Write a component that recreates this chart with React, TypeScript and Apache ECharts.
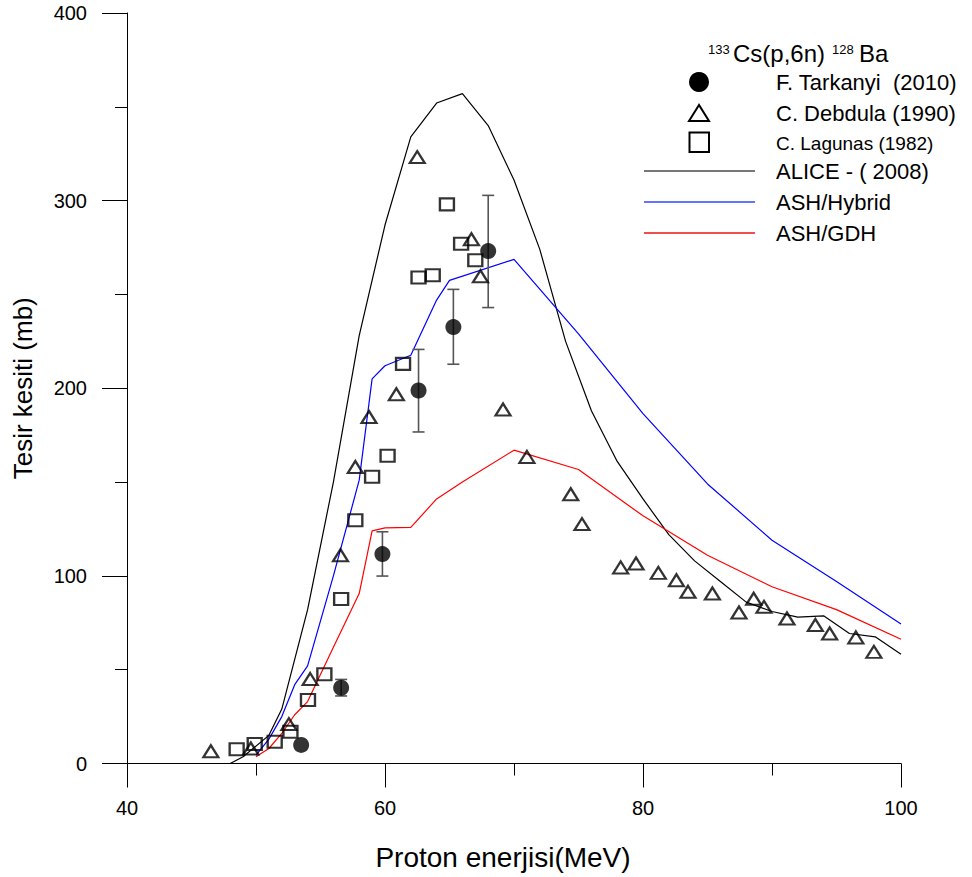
import React, { useEffect, useRef } from "react";
import * as echarts from "echarts";

// ---- data (energy MeV, cross-section mb) ----
const tarkanyi = [
  [53.5, 9.9], [56.6, 40.4], [59.8, 111.6], [62.6, 198.8], [65.3, 232.6], [68.0, 273.1],
];
const tarkanyiErr = [
  [56.6, 36, 44.8], [59.8, 99.9, 123.5], [62.6, 176.7, 220.7], [65.3, 212.8, 252.7], [68.0, 243, 302.8],
];
const debdula = [
  [46.5, 6.5], [49.6, 8], [52.55, 21], [54.2, 45], [56.55, 111], [57.7, 158], [58.76, 184.7],
  [60.88, 196.8], [62.5, 323.2], [66.7, 279.4], [67.4, 259.7], [69.15, 188.7], [71.0, 163.4],
  [74.4, 143.5], [75.27, 127.6], [78.27, 104.5], [79.46, 106.6], [81.19, 101.6], [82.59, 97.7],
  [83.49, 91.5], [85.38, 90.6], [87.44, 80.5], [88.58, 87.8], [89.38, 83.5], [91.16, 77.3],
  [93.36, 73.8], [94.47, 69.3], [96.5, 67.2], [97.9, 59.5],
];
const lagunas = [
  [48.5, 7.6], [49.9, 10.4], [51.45, 11.6], [52.67, 16.9], [54.03, 33.8], [55.3, 47.6],
  [56.6, 87.7], [57.7, 129.7], [59.0, 152.8], [60.2, 164], [61.4, 213], [62.6, 259],
  [63.7, 260.2], [64.8, 298], [65.9, 277], [67.0, 268.2],
];
const alice = [
  [48, 0], [49, 3.6], [51, 15], [52, 29], [54, 82], [56, 150], [58, 228], [60, 287], [62, 334],
  [64, 352], [66, 357], [68, 340], [70, 311], [72, 274], [74, 225], [76, 188], [78, 161],
  [80, 141], [82, 122], [84, 108], [86, 97], [88, 86], [90, 81], [92, 78], [94, 78.7],
  [96, 69.3], [98, 67.5], [100, 58.2],
];
const ashHybrid = [
  [50, 4.5], [51, 13], [52, 25], [53, 42], [54, 52], [56, 100], [58, 151], [59, 205], [60, 212],
  [62, 217.6], [64, 247], [65, 257.5], [70, 268.7], [75, 229], [80, 186.5], [85, 149],
  [90, 119], [95, 97], [100, 74.3],
];
const ashGdh = [
  [50, 3.6], [51, 8], [52, 16], [53, 26], [54, 33], [56, 62], [58, 90.6], [59, 124], [60, 125.6],
  [62, 125.8], [64, 141], [66, 150], [70, 167], [75, 156.7], [80, 132], [85, 111], [90, 94.2],
  [95, 82], [100, 66.2],
];
const legendNames = [
  "F. Tarkanyi  (2010)", "C. Debdula (1990)", "C. Lagunas (1982)",
  "ALICE - ( 2008)", "ASH/Hybrid", "ASH/GDH",
];

const FONT = "'Liberation Sans', Arial, Helvetica, sans-serif";

export default function App() {
  const ref = useRef<HTMLDivElement>(null);
  useEffect(() => {
    const chart = echarts.init(ref.current as HTMLDivElement, null, {
      renderer: "svg",
      width: 972,
      height: 877,
    });
    const txt = (text: string, x: number, y: number, size: number) => ({
      type: "text",
      x,
      y,
      silent: true,
      style: { text, fontSize: size, fontFamily: FONT, fill: "#000", align: "left", verticalAlign: "middle" },
    });
    const option: any = {
      animation: false,
      backgroundColor: "#fff",
      grid: { left: 127, right: 71, top: 13, bottom: 113.5, containLabel: false },
      xAxis: {
        type: "value",
        min: 40,
        max: 100,
        interval: 20,
        name: "Proton enerjisi(MeV)",
        nameLocation: "middle",
        nameGap: 80,
        nameTextStyle: { fontSize: 28, fontFamily: FONT, color: "#000", padding: [0, 22, 0, 0] },
        axisLine: { onZero: false, lineStyle: { color: "#000", width: 1 } },
        axisTick: { inside: false, length: 24, lineStyle: { color: "#000" } },
        minorTick: { show: true, splitNumber: 2, length: 12, lineStyle: { color: "#000" } },
        axisLabel: { fontSize: 20, fontFamily: FONT, color: "#000", margin: 34 },
        splitLine: { show: false },
      },
      yAxis: {
        type: "value",
        min: 0,
        max: 400,
        interval: 100,
        name: "Tesir kesiti (mb)",
        nameLocation: "middle",
        nameGap: 91,
        nameRotate: 90,
        nameTextStyle: { fontSize: 26, fontFamily: FONT, color: "#000" },
        axisLine: { onZero: false, lineStyle: { color: "#000", width: 1 } },
        axisTick: { inside: false, length: 25, lineStyle: { color: "#000" } },
        minorTick: { show: true, splitNumber: 2, length: 12, lineStyle: { color: "#000" } },
        axisLabel: { fontSize: 20, fontFamily: FONT, color: "#000", margin: 40 },
        splitLine: { show: false },
      },
      series: [
        {
          name: legendNames[3], type: "line", data: alice, symbol: "none", silent: true, z: 2,
          lineStyle: { color: "#000", width: 1.2 },
        },
        {
          name: legendNames[4], type: "line", data: ashHybrid, symbol: "none", silent: true, z: 2,
          lineStyle: { color: "#0000ff", width: 1.2 },
        },
        {
          name: legendNames[5], type: "line", data: ashGdh, symbol: "none", silent: true, z: 2,
          lineStyle: { color: "#ff0000", width: 1.2 },
        },
        {
          type: "custom",
          data: tarkanyiErr,
          silent: true,
          z: 3,
          encode: { x: 0, y: [1, 2] },
          renderItem: (_p: any, api: any) => {
            const x = api.value(0);
            const top = api.coord([x, api.value(2)]);
            const bot = api.coord([x, api.value(1)]);
            const w = 6;
            const st = { stroke: "#555", lineWidth: 1.6 };
            return {
              type: "group",
              children: [
                { type: "line", shape: { x1: top[0], y1: top[1], x2: bot[0], y2: bot[1] }, style: st },
                { type: "line", shape: { x1: top[0] - w, y1: top[1], x2: top[0] + w, y2: top[1] }, style: st },
                { type: "line", shape: { x1: bot[0] - w, y1: bot[1], x2: bot[0] + w, y2: bot[1] }, style: st },
              ],
            };
          },
        },
        {
          name: legendNames[1], type: "scatter", data: debdula, symbol: "triangle", symbolSize: [15, 12],
          silent: true, z: 4,
          itemStyle: { color: "rgba(0,0,0,0)", borderColor: "#000", borderWidth: 2.2 },
        },
        {
          name: legendNames[2], type: "scatter", data: lagunas, symbol: "rect", symbolSize: [14, 12],
          silent: true, z: 4,
          itemStyle: { color: "rgba(0,0,0,0)", borderColor: "#000", borderWidth: 2.2 },
        },
        {
          name: legendNames[0], type: "scatter", data: tarkanyi, symbol: "circle", symbolSize: 16,
          silent: true, z: 5,
          itemStyle: { color: "#000" },
        },
      ],
      graphic: [
        // title
        txt("133", 708, 49, 13),
        txt("Cs(p,6n)", 733, 53, 24),
        txt("128", 832, 49, 13),
        txt("Ba", 859, 53, 24),
        // legend symbols
        { type: "circle", silent: true, shape: { cx: 699, cy: 82, r: 10 }, style: { fill: "#000" } },
        {
          type: "polygon", silent: true,
          shape: { points: [[699, 105], [689, 121], [709, 121]] },
          style: { fill: "none", stroke: "#000", lineWidth: 2 },
        },
        {
          type: "rect", silent: true, shape: { x: 689.5, y: 132.5, width: 19.5, height: 19.5 },
          style: { fill: "none", stroke: "#000", lineWidth: 2 },
        },
        { type: "line", silent: true, shape: { x1: 644, y1: 171, x2: 755, y2: 171 }, style: { stroke: "#777", lineWidth: 2 } },
        { type: "line", silent: true, shape: { x1: 644, y1: 202, x2: 755, y2: 202 }, style: { stroke: "#3344ff", lineWidth: 1.6 } },
        { type: "line", silent: true, shape: { x1: 644, y1: 233, x2: 755, y2: 233 }, style: { stroke: "#ee1111", lineWidth: 1.6 } },
        // legend labels
        txt(legendNames[0], 776, 82, 22),
        txt(legendNames[1], 776, 113, 22),
        txt(legendNames[2], 776, 143, 19),
        txt(legendNames[3], 776, 171, 22),
        txt(legendNames[4], 776, 202, 22),
        txt(legendNames[5], 776, 233, 22),
      ],
    };
    chart.setOption(option);
    return () => chart.dispose();
  }, []);
  return (
    <div
      ref={ref}
      style={{ position: "fixed", left: 0, top: 0, width: 972, height: 877, background: "#fff" }}
    />
  );
}
